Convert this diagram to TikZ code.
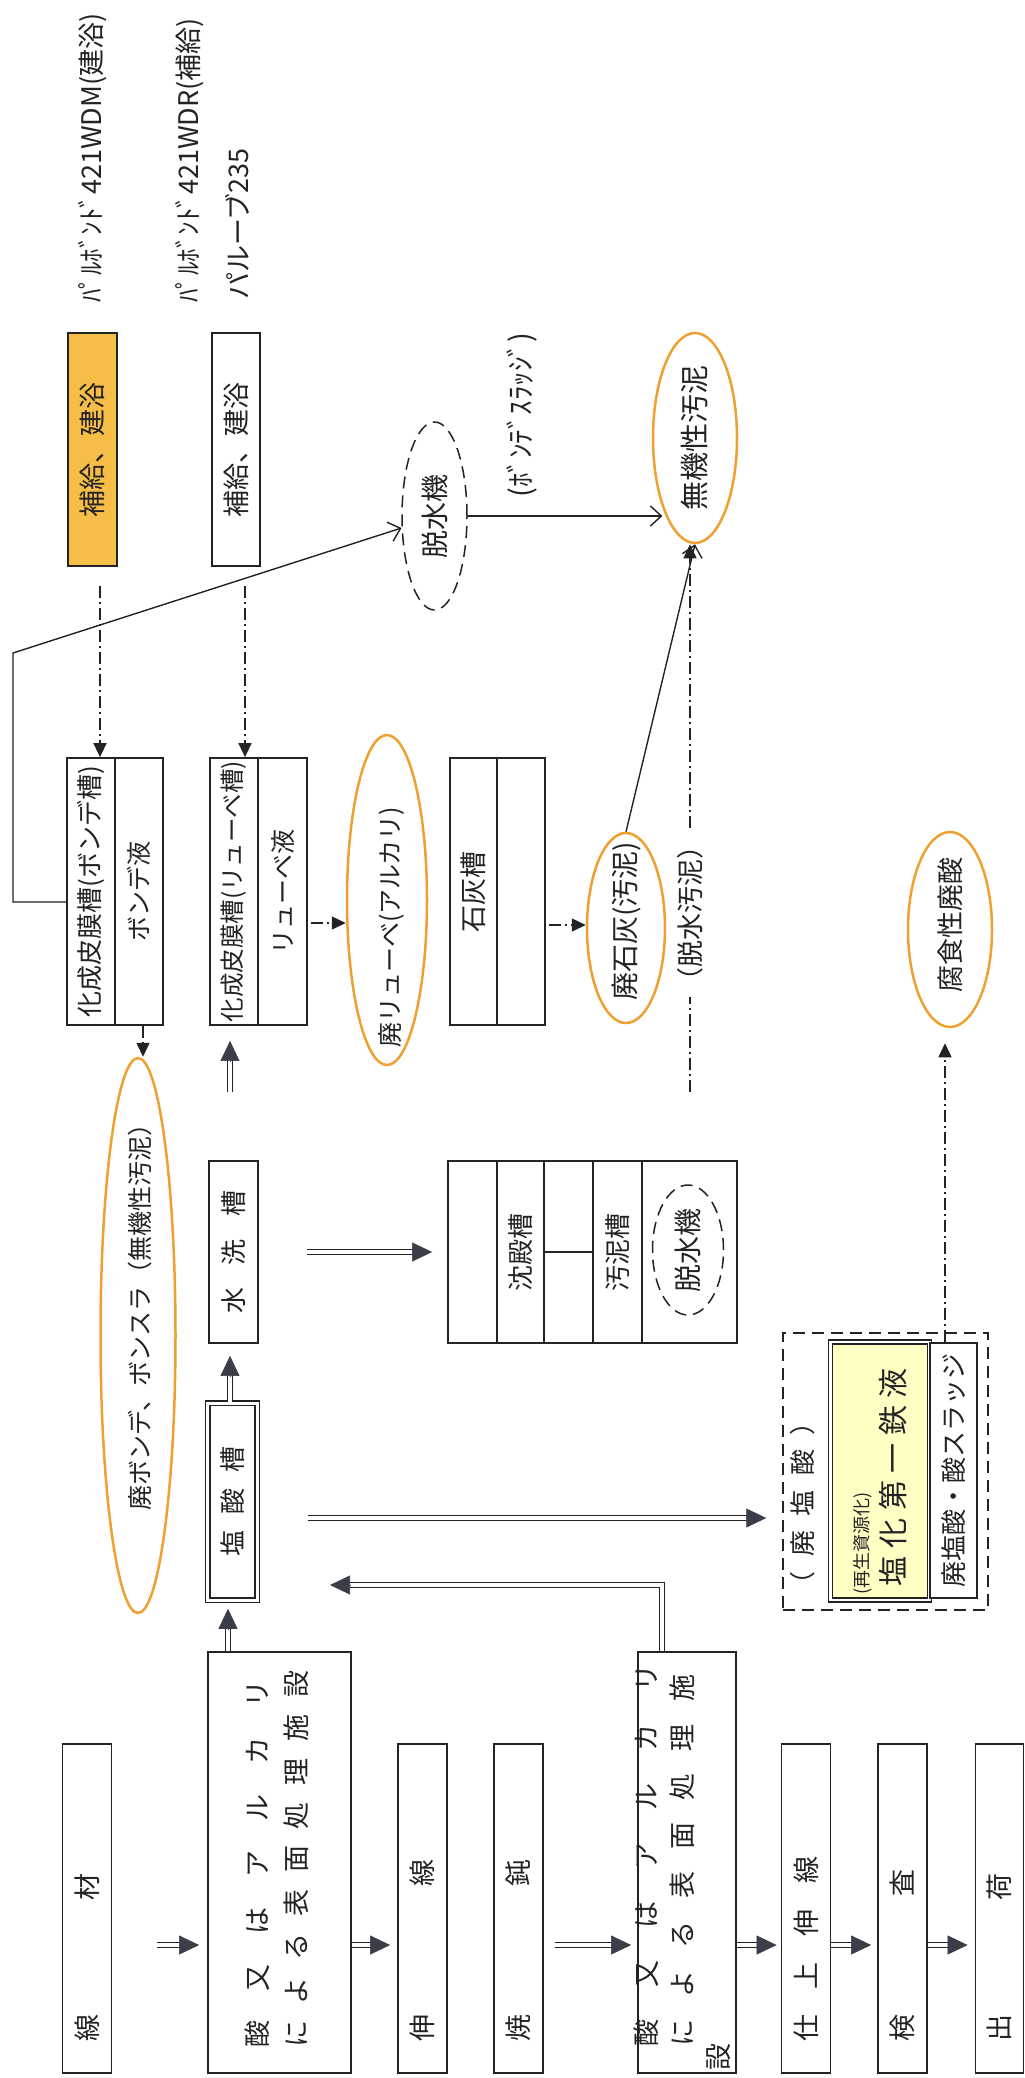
\documentclass[tikz,border=0pt]{standalone}
\usepackage{fontspec}
\setmainfont{Noto Sans CJK JP}
\usepackage{graphicx}
\usetikzlibrary{shapes.geometric,arrows.meta,calc}
\definecolor{lc}{RGB}{35,35,38}
\definecolor{hc}{RGB}{58,62,72}
\definecolor{orng}{RGB}{238,160,48}
\definecolor{ofill}{RGB}{246,190,70}
\definecolor{yfill}{RGB}{255,255,196}
\newcommand\RT[1]{\rotatebox{90}{#1}}
\newcommand\fs[1]{\fontsize{#1}{#1}\selectfont}
\newcommand\dblar[2]{\draw[dbl, shorten >=14pt] (#1) -- (#2);\draw[dhead] ($(#2)!20pt!(#1)$) -- (#2);}
\tikzset{
  ln/.style={draw=lc, line width=1.8pt},
  bx/.style={ln, rectangle, inner sep=0pt, fill=white, text=lc},
  txt/.style={inner sep=0pt, text=lc},
  oval/.style={ellipse, draw=orng, line width=2.5pt, inner sep=0pt},
  dov/.style={ellipse, draw=lc, line width=1.5pt, dash pattern=on 12pt off 7pt, inner sep=0pt, fill=white, text=lc},
  dd/.style={draw=lc, line width=1.5pt, dash pattern=on 12pt off 4pt on 2pt off 4pt},
  ddarr/.style={dd, -{Triangle[length=14pt,width=13pt]}},
  opena/.style={draw=lc, line width=1.4pt, -{Straight Barb[length=11pt,width=20pt]}},
  dbl/.style={draw=lc, double=white, double distance=3.5pt, line width=1.3pt},
  dhead/.style={draw=hc, fill=hc, line width=0.6pt, -{Triangle[length=20pt,width=19pt]}},
}
\begin{document}
\begin{tikzpicture}[x=1pt,y=-1pt]
\fill[white] (0,0) rectangle (1025,2078);
\useasboundingbox (0,0) rectangle (1025,2078);

% ---- top labels
\node[txt, anchor=south, font=\fs{27}] (lab1) at (93,303) {\RT{ﾊﾟﾙﾎﾞﾝﾄﾞ421WDM(建浴)}};
\node[txt, anchor=south, font=\fs{27}] (lab2) at (190,303) {\RT{ﾊﾟﾙﾎﾞﾝﾄﾞ421WDR(補給)}};
\node[txt, anchor=south, font=\fs{27}] (lab3) at (237,300) {\RT{パルーブ235}};

% ---- supply boxes
\node[bx, fill=ofill, minimum width=49pt, minimum height=233pt, font=\fs{27}] (hokyu1) at (92.5,449.5) {\RT{補給、建浴}};
\node[bx, minimum width=48pt, minimum height=233pt, font=\fs{27}] (hokyu2) at (236,449.5) {\RT{補給、建浴}};

% ---- conversion coating tanks
\node[bx, minimum width=48pt, minimum height=267pt, font=\fs{26}] (bondeA) at (91,891.5) {\RT{化成皮膜槽(ボンデ槽)}};
\node[bx, minimum width=48pt, minimum height=267pt, font=\fs{25}] (bondeB) at (139,891.5) {\RT{ボンデ液}};
\node[bx, minimum width=48pt, minimum height=267pt, font=\fs{24.5}] (ryubeA) at (234,891.5) {\RT{化成皮膜槽(リューベ槽)}};
\node[bx, minimum width=49pt, minimum height=267pt, font=\fs{25}] (ryubeB) at (282.5,891.5) {\RT{リューベ液}};

% ---- lime tank
\node[bx, minimum width=47pt, minimum height=267pt, font=\fs{27}] (sekkaiA) at (473.5,891.5) {\RT{石灰槽}};
\node[bx, minimum width=48pt, minimum height=267pt] (sekkaiB) at (521,891.5) {};

% ---- ellipses
\node[dov, minimum width=65pt, minimum height=188pt, font=\fs{28}] (dassui1) at (434.5,516) {\RT{脱水機}};
\node[oval, minimum width=84pt, minimum height=210pt, font=\fs{29}, text=lc] (muki) at (695,438) {\RT{無機性汚泥}};
\node[oval, minimum width=80pt, minimum height=330pt] (haiR) at (387,900) {};
\node[txt, font=\fs{25}] (haiRt) at (391,927) {\RT{廃リューベ(アルカリ)}};
\node[oval, minimum width=78pt, minimum height=190pt] (haisekkai) at (626,928) {};
\node[txt, font=\fs{28}] (haisekkaiT) at (626,921) {\RT{廃石灰(汚泥)}};
\node[oval, minimum width=84pt, minimum height=195pt] (fushoku) at (950,929.5) {};
\node[txt, font=\fs{27}] (fushokuT) at (950,925) {\RT{腐食性廃酸}};
\node[oval, minimum width=75pt, minimum height=555pt] (haibonde) at (138,1335.5) {};
\node[txt, font=\fs{25}] (haibondeT) at (140,1311) {\RT{廃ボンデ、ボンスラ（無機性汚泥）}};
\node[txt, font=\fs{29}] (bslab) at (522,415) {\RT{(ﾎﾞﾝﾃﾞｽﾗｯｼﾞ)}};

% ---- washing / acid tanks
\node[bx, minimum width=49pt, minimum height=182pt, font=\fs{26}] (suisen) at (233.5,1252) {\RT{\makebox[123pt][s]{水\hfill 洗\hfill 槽}}};
\node[bx, double=white, double distance=3pt, line width=1.5pt, minimum width=49.5pt, minimum height=197pt, font=\fs{26}] (ensan) at (232.5,1501.5) {\RT{\makebox[110pt][s]{塩\hfill 酸\hfill 槽}}};

% ---- settling tank group
\node[bx, minimum width=49pt, minimum height=182pt] (chA) at (472.5,1252) {};
\node[bx, minimum width=47pt, minimum height=182pt, font=\fs{26}] (chB) at (520.5,1252) {\RT{沈殿槽}};
\node[bx, minimum width=49pt, minimum height=182pt] (chC) at (568.5,1252) {};
\node[bx, minimum width=49pt, minimum height=182pt, font=\fs{26}] (chD) at (617.5,1252) {\RT{汚泥槽}};
\node[bx, minimum width=95pt, minimum height=182pt] (chE) at (689.5,1252) {};
\node[dov, minimum width=71pt, minimum height=130pt, font=\fs{28}] (dassui2) at (688,1250) {\RT{脱水機}};
\draw[ln] (chC.west) -- (chC.east);

% ---- process column
\node[bx, minimum width=49pt, minimum height=329pt] (senzai) at (87,1908.5) {};
\node[txt, anchor=south, font=\fs{27}] (senzaiT) at (87,2042) {\RT{\makebox[168pt][s]{線\hfill 材}}};
\node[bx, minimum width=143pt, minimum height=421pt] (sanA) at (279.5,1862.5) {};
\node[txt, anchor=south, font={\fontsize{27}{39}\selectfont}] (sanAT) at (279.5,2048) {\RT{\begin{tabular}{@{}l@{}}\makebox[367pt][s]{酸\hfill 又\hfill は\hfill ア\hfill ル\hfill カ\hfill リ}\\\makebox[377pt][s]{に\hfill よ\hfill る\hfill 表\hfill 面\hfill 処\hfill 理\hfill 施\hfill 設}\end{tabular}}};
\node[bx, minimum width=49pt, minimum height=329pt] (shinsen) at (422.5,1908.5) {};
\node[txt, anchor=south, font=\fs{27}] (shinsenT) at (422.5,2042) {\RT{\makebox[182pt][s]{伸\hfill 線}}};
\node[bx, minimum width=49pt, minimum height=329pt] (shoudon) at (518.5,1908.5) {};
\node[txt, anchor=south, font=\fs{27}] (shoudonT) at (518.5,2042) {\RT{\makebox[182pt][s]{焼\hfill 鈍}}};
\node[bx, minimum width=98pt, minimum height=421pt] (sanB) at (687,1862.5) {};
\node[txt, anchor=south, font={\fontsize{27}{36}\selectfont}] (sanBT) at (685.5,2047) {\RT{\begin{tabular}{@{}l@{}}\makebox[382pt][s]{酸\hfill 又\hfill は\hfill ア\hfill ル\hfill カ\hfill リ}\\\makebox[372pt][s]{に\hfill よ\hfill る\hfill 表\hfill 面\hfill 処\hfill 理\hfill 施}\\\hspace*{-24pt}設\end{tabular}}};
\node[bx, minimum width=49pt, minimum height=329pt] (shiage) at (806,1908.5) {};
\node[txt, anchor=south, font=\fs{27}] (shiageT) at (806,2042) {\RT{\makebox[185pt][s]{仕\hfill 上\hfill 伸\hfill 線}}};
\node[bx, minimum width=49pt, minimum height=329pt] (kensa) at (902.5,1908.5) {};
\node[txt, anchor=south, font=\fs{27}] (kensaT) at (902.5,2042) {\RT{\makebox[172pt][s]{検\hfill 査}}};
\node[bx, minimum width=48pt, minimum height=329pt] (shukka) at (999.5,1908.5) {};
\node[txt, anchor=south, font=\fs{27}] (shukkaT) at (999.5,2042) {\RT{\makebox[168pt][s]{出\hfill 荷}}};

% ---- waste hydrochloric acid group
\node[draw=lc, line width=1.5pt, dash pattern=on 12pt off 7pt, minimum width=205pt, minimum height=277pt, inner sep=0pt] (grp) at (885.5,1471.5) {};
\node[txt, font=\fs{26}] (grpT) at (803,1503) {\RT{\makebox[188pt][s]{（\hfill 廃\hfill 塩\hfill 酸\hfill ）}}};
\node[bx, fill=yfill, double=white, double distance=2.5pt, line width=1.5pt, minimum width=99pt, minimum height=258pt] (yellow) at (880,1471) {};
\node[txt, anchor=south, font=\fs{18}] (yT1) at (863,1595) {\RT{(再生資源化)}};
\node[txt, font=\fs{30}] (yT2) at (893,1477) {\RT{\makebox[218pt][s]{塩\hfill 化\hfill 第\hfill 一\hfill 鉄\hfill 液}}};
\node[bx, minimum width=47pt, minimum height=255pt, font=\fs{26}] (sludge) at (953.5,1470.5) {\RT{廃塩酸・酸スラッジ}};

% ---- dash-dot arrows
\draw[ddarr] ([xshift=7.5pt,yshift=-19pt]hokyu1.south) -- ([xshift=9pt]bondeA.north);
\draw[ddarr] ([xshift=9pt,yshift=-19pt]hokyu2.south) -- ([xshift=11pt]ryubeA.north);
\coordinate (p3) at ([xshift=4pt]bondeB.south);
\draw[ddarr] (p3) -- (p3 |- haibonde.north);
\coordinate (p4) at ([xshift=3pt,yshift=-31.5pt]ryubeB.east);
\draw[ddarr] (p4) -- (p4 -| haiR.west);
\coordinate (p5) at ([xshift=3pt,yshift=-33.5pt]sekkaiB.east);
\draw[ddarr] (p5) -- (p5 -| haisekkai.west);
\coordinate (p6) at (690,1092);
\draw[ddarr] (p6) -- node[pos=0.326, fill=white, inner sep=3pt, text=lc, font=\fs{27}] (dlab) {\RT{（脱水汚泥）}} (p6 |- muki.south);
\coordinate (p7) at ([xshift=-8.5pt]sludge.north);
\coordinate (p7e) at ([yshift=-15pt]fushoku.south);
\draw[ddarr] (p7) -- (p7 |- p7e);

% ---- open-headed arrows
\draw[opena] (bondeA.west |- 0,902) -- (13,902) -- (13,653) -- (dassui1.200);
\draw[opena] (dassui1.east) -- (dassui1.east -| muki.245);
\draw[opena] (haisekkai.north) -- (muki.south);

% ---- double arrows
\coordinate (a1s) at (157,1945);
\coordinate (a1e) at ($(a1s -| sanA.west)+(-8,0)$);
\dblar{a1s}{a1e}
\coordinate (a2s) at (sanA.north -| 228,0);
\coordinate (a2e) at ($(a2s |- ensan.south)+(0,8)$);
\dblar{a2s}{a2e}
\coordinate (a3s) at (ensan.north -| 230,0);
\coordinate (a3e) at ($(a3s |- suisen.south)+(0,12)$);
\dblar{a3s}{a3e}
\coordinate (a4s) at (230,1092);
\coordinate (a4e) at ($(a4s |- ryubeA.south)+(0,15)$);
\dblar{a4s}{a4e}
\coordinate (a5s) at (307,1252);
\coordinate (a5e) at ($(a5s -| chA.west)+(-15,0)$);
\dblar{a5s}{a5e}
\coordinate (a6s) at (308,1518);
\coordinate (a6e) at ($(a6s -| grp.west)+(-16,0)$);
\dblar{a6s}{a6e}
\coordinate (r0) at (sanB.north -| 662,0);
\coordinate (r1) at (662,1585);
\coordinate (r2) at (330,1585);
\draw[dbl, shorten >=14pt] (r0) -- (r1) -- (r2);
\draw[dhead] ($(r2)!20pt!(r1)$) -- (r2);
\coordinate (a8s) at (sanA.east |- 0,1945);
\coordinate (a8e) at ($(a8s -| shinsen.west)+(-7,0)$);
\dblar{a8s}{a8e}
\coordinate (a9s) at (555,1945);
\coordinate (a9e) at ($(a9s -| sanB.west)+(-6,0)$);
\dblar{a9s}{a9e}
\coordinate (a10s) at (sanB.east |- 0,1945);
\coordinate (a10e) at ($(a10s -| shiage.west)+(-4,0)$);
\dblar{a10s}{a10e}
\coordinate (a11s) at (shiage.east |- 0,1945);
\coordinate (a11e) at ($(a11s -| kensa.west)+(-6,0)$);
\dblar{a11s}{a11e}
\coordinate (a12s) at (kensa.east |- 0,1945);
\coordinate (a12e) at ($(a12s -| shukka.west)+(-7,0)$);
\dblar{a12s}{a12e}
\end{tikzpicture}
\end{document}
